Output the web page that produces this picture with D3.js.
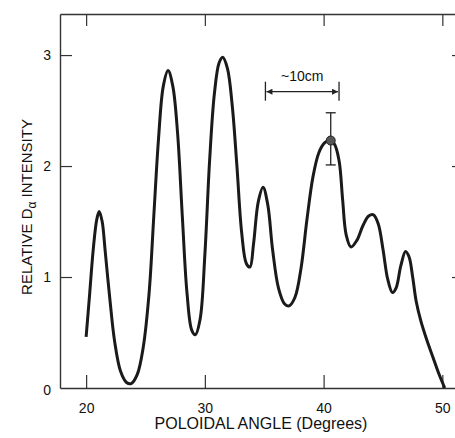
<!DOCTYPE html>
<html>
<head>
<meta charset="utf-8">
<script src="https://cdn.jsdelivr.net/npm/d3@7"></script>
<style>
  body { margin: 0; background: #fff; }
  text { font-family: "Liberation Sans", Arial, sans-serif; fill: #111; }
</style>
</head>
<body>
<div id="chart"></div>
<script>
// poloidal angle (degrees) and relative D-alpha intensity
var angle = [20.0, 20.3, 20.6, 20.9, 21.1, 21.35, 21.6, 22.0, 22.4, 22.9, 23.4, 23.8, 24.3, 24.8, 25.3,
  25.7, 26.1, 26.5, 26.9, 27.3, 27.7, 28.1, 28.5, 28.9, 29.2, 29.6, 30.0, 30.4, 30.8, 31.2,
  31.5, 31.9, 32.3, 32.7, 33.1, 33.5, 33.8, 34.1, 34.5, 34.9, 35.3, 35.7, 36.2, 36.7, 37.1,
  37.6, 38.1, 38.6, 39.1, 39.6, 40.1, 40.5, 40.9, 41.3, 41.6, 41.9, 42.3, 42.8, 43.3, 43.8,
  44.2, 44.6, 45.0, 45.4, 45.8, 46.1, 46.5, 46.9, 47.2, 47.5, 47.8, 48.2, 48.7, 49.2, 49.7, 50.2]
var intensity = [0.46, 0.85, 1.25, 1.52, 1.59, 1.50, 1.24, 0.80, 0.42, 0.15, 0.05, 0.04, 0.12, 0.36, 0.85,
  1.55, 2.25, 2.72, 2.86, 2.72, 2.30, 1.55, 0.85, 0.52, 0.48, 0.62, 1.20, 2.05, 2.65, 2.93,
  2.98, 2.88, 2.55, 2.00, 1.40, 1.12, 1.09, 1.30, 1.68, 1.81, 1.65, 1.25, 0.90, 0.76, 0.74,
  0.82, 1.08, 1.52, 1.90, 2.12, 2.21, 2.23, 2.20, 2.05, 1.70, 1.38, 1.27, 1.33, 1.46, 1.55,
  1.56, 1.48, 1.25, 0.98, 0.86, 0.90, 1.10, 1.23, 1.18, 1.00, 0.78, 0.60, 0.43, 0.28, 0.13, 0.00]

var xTicks = [20, 30, 40, 50]
var yTicks = [0, 1, 2, 3]

// error bar point
var errAngle = 40.6, errValue = 2.23, errLow = 2.01, errHigh = 2.48
// "~10cm" span marker
var spanFrom = 35.1, spanTo = 41.3, spanLevel = 2.67

;(function () {

  var width = 455, height = 438
  var mLeft = 60, mTop = 14, mRight = 456, mBottom = 388

  var svg = d3.select('#chart')
    .append('svg')
    .attr('width', width)
    .attr('height', height)

  var x = d3.scaleLinear().domain([17.8, 51.15]).range([mLeft, mRight])
  var y = d3.scaleLinear().domain([0, 3.37]).range([mBottom, mTop])

  var defs = svg.append('defs')
  defs.append('marker')
    .attr('id', 'head')
    .attr('viewBox', '0 0 10 10')
    .attr('refX', 10).attr('refY', 5)
    .attr('markerWidth', 9).attr('markerHeight', 6)
    .attr('markerUnits', 'userSpaceOnUse')
    .attr('orient', 'auto-start-reverse')
    .append('path')
    .attr('d', 'M0,0L10,5L0,10Z')
    .attr('fill', '#222')

  // axes, ticks pointing inward
  var axisStyle = function (g) {
    g.select('.domain').attr('stroke', '#333').attr('stroke-width', 1.4)
    g.selectAll('.tick line').attr('stroke', '#333').attr('stroke-width', 1.2)
    g.selectAll('.tick text').attr('font-size', 14).attr('fill', '#111')
      .attr('font-family', '"Liberation Sans", Arial, sans-serif')
  }

  svg.append('g')
    .attr('transform', 'translate(0,' + mBottom + ')')
    .call(d3.axisBottom(x).tickValues(xTicks).tickFormat(d3.format('d'))
      .tickSizeInner(-13).tickSizeOuter(0).tickPadding(15))
    .call(axisStyle)

  svg.append('g')
    .attr('transform', 'translate(0,' + mTop + ')')
    .call(d3.axisTop(x).tickValues(xTicks).tickSizeInner(-12).tickSizeOuter(0).tickFormat(''))
    .call(axisStyle)

  svg.append('g')
    .attr('transform', 'translate(' + mLeft + ',0)')
    .call(d3.axisLeft(y).tickValues(yTicks.slice(1)).tickFormat(d3.format('d'))
      .tickSizeInner(-12).tickSizeOuter(0).tickPadding(9))
    .call(axisStyle)

  // the zero label sits just under the corner, no tick
  svg.append('text')
    .attr('x', mLeft - 9)
    .attr('y', y(yTicks[0]) + 7)
    .attr('text-anchor', 'end')
    .attr('font-size', 14)
    .text(yTicks[0])

  svg.append('g')
    .attr('transform', 'translate(' + mRight + ',0)')
    .call(d3.axisRight(y).tickValues(yTicks.slice(1)).tickSizeInner(-4).tickSizeOuter(0).tickFormat(''))
    .call(axisStyle)

  // axis titles
  svg.append('text')
    .attr('x', 261)
    .attr('y', 429)
    .attr('text-anchor', 'middle')
    .attr('font-size', 16)
    .text('POLOIDAL ANGLE (Degrees)')

  var yt = svg.append('text')
    .attr('transform', 'translate(32,207) rotate(-90)')
    .attr('text-anchor', 'middle')
    .attr('font-size', 15)
  yt.append('tspan').text('RELATIVE D')
  yt.append('tspan').attr('font-size', 12).attr('dy', 4).text('α')
  yt.append('tspan').attr('dy', -4).text(' INTENSITY')

  // trace
  var pts = angle.map(function (a, i) { return [a, intensity[i]] })
  var line = d3.line()
    .x(function (d) { return x(d[0]) })
    .y(function (d) { return y(d[1]) })
    .curve(d3.curveCatmullRom)

  svg.append('path')
    .datum(pts)
    .attr('d', line)
    .attr('fill', 'none')
    .attr('stroke', '#1a1a1a')
    .attr('stroke-width', 3)
    .attr('stroke-linejoin', 'round')

  // error bar
  var cap = 5
  svg.append('line')
    .attr('x1', x(errAngle)).attr('x2', x(errAngle))
    .attr('y1', y(errHigh)).attr('y2', y(errLow))
    .attr('stroke', '#222').attr('stroke-width', 1.3)
  ;[errHigh, errLow].forEach(function (v) {
    svg.append('line')
      .attr('x1', x(errAngle) - cap).attr('x2', x(errAngle) + cap)
      .attr('y1', y(v)).attr('y2', y(v))
      .attr('stroke', '#222').attr('stroke-width', 1.3)
  })
  svg.append('circle')
    .attr('cx', x(errAngle)).attr('cy', y(errValue))
    .attr('r', 4.5)
    .attr('fill', '#555')
    .attr('stroke', '#222')

  // ~10cm span arrow
  svg.append('line')
    .attr('x1', x(spanFrom) + 1).attr('x2', x(spanTo) - 1)
    .attr('y1', y(spanLevel)).attr('y2', y(spanLevel))
    .attr('stroke', '#222').attr('stroke-width', 1.3)
    .attr('marker-start', 'url(#head)')
    .attr('marker-end', 'url(#head)')
  ;[spanFrom, spanTo].forEach(function (v) {
    svg.append('line')
      .attr('x1', x(v)).attr('x2', x(v))
      .attr('y1', y(spanLevel) - 10).attr('y2', y(spanLevel) + 9)
      .attr('stroke', '#222').attr('stroke-width', 1.3)
  })
  svg.append('text')
    .attr('x', x((spanFrom + spanTo) / 2))
    .attr('y', y(spanLevel) - 11)
    .attr('text-anchor', 'middle')
    .attr('font-size', 14)
    .text('~10cm')

})()
</script>
</body>
</html>
